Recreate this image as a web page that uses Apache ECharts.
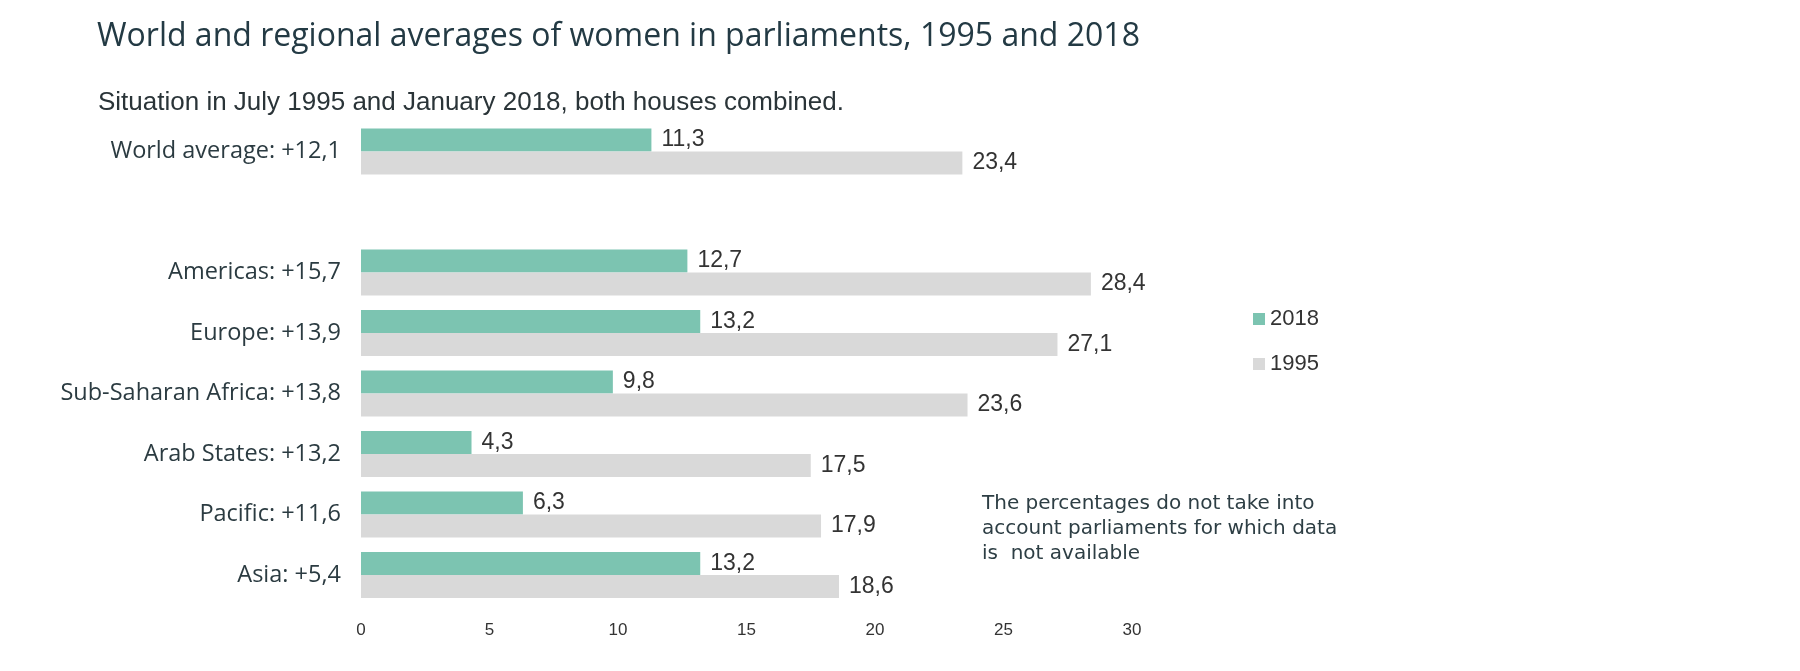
<!DOCTYPE html>
<html>
<head>
<meta charset="utf-8">
<script src="https://cdn.jsdelivr.net/npm/echarts@6/dist/echarts.min.js"></script>
<style>html,body{margin:0;padding:0;background:#fff;}#c{width:1800px;height:671px;}</style>
</head>
<body>
<div id="c"></div>
<script>
const categories = ["World average: +12,1", "", "Americas: +15,7", "Europe: +13,9", "Sub-Saharan Africa: +13,8", "Arab States: +13,2", "Pacific: +11,6", "Asia: +5,4"];
const values2018 = [11.3, null, 12.7, 13.2, 9.8, 4.3, 6.3, 13.2];
const values1995 = [23.4, null, 28.4, 27.1, 23.6, 17.5, 17.9, 18.6];
const seriesNames = ["2018", "1995"];
const xTicks = [0, 5, 10, 15, 20, 25, 30];
const titleText = "World and regional averages of women in parliaments, 1995 and 2018";
const subtitleText = "Situation in July 1995 and January 2018, both houses combined.";
const noteLines = ["The percentages do not take into", "account parliaments for which data", "is  not available"];

const chart = echarts.init(document.getElementById('c'));
const fmt = p => String(p.value).replace('.', ',');
const labelStyle = {show: true, position: 'right', distance: 10, formatter: fmt,
  fontFamily: 'Liberation Sans, Arial, sans-serif', fontSize: 23, color: '#333'};
chart.setOption({
  animation: false,
  backgroundColor: '#fff',
  title: [
    {text: titleText, left: 97, top: 21, padding: 0,
     textStyle: {fontFamily: 'Open Sans', fontWeight: 'normal', fontSize: 32, color: '#233a44'}},
    {text: subtitleText, left: 98, top: 90, padding: 0,
     textStyle: {fontFamily: 'Liberation Sans, Arial', fontWeight: 'normal', fontSize: 26, color: '#2a3438'}}
  ],
  legend: {
    orient: 'vertical', left: 1253, top: 308, padding: 0, itemGap: 23, itemWidth: 12, itemHeight: 12,
    icon: 'rect', data: seriesNames,
    textStyle: {fontFamily: 'Liberation Sans, Arial', fontSize: 22, color: '#333'}
  },
  grid: {left: 361, right: 668, top: 121.2, bottom: 65.8, containLabel: false},
  xAxis: {
    type: 'value', min: xTicks[0], max: xTicks[xTicks.length - 1], interval: 5,
    splitLine: {show: false}, axisLine: {show: false}, axisTick: {show: false},
    axisLabel: {fontFamily: 'Liberation Sans, Arial', fontSize: 17, color: '#333', margin: 17}
  },
  yAxis: {
    type: 'category', data: categories, inverse: true,
    axisLine: {show: false}, axisTick: {show: false},
    axisLabel: {fontFamily: 'Open Sans', fontSize: 23.5, color: '#2b3b41', margin: 20}
  },
  series: [
    {name: seriesNames[0], type: 'bar', data: values2018, barGap: '0%', barCategoryGap: '24%',
     itemStyle: {color: '#7cc4b1'}, label: labelStyle},
    {name: seriesNames[1], type: 'bar', data: values1995, barGap: '0%', barCategoryGap: '24%',
     itemStyle: {color: '#d9d9d9'}, label: labelStyle}
  ],
  graphic: [{
    type: 'text', left: 982, top: 491,
    style: {text: noteLines.join('\n'), fontFamily: 'DejaVu Sans', fontSize: 20, lineHeight: 25, fill: '#2d3e44'}
  }]
});
</script>
</body>
</html>
